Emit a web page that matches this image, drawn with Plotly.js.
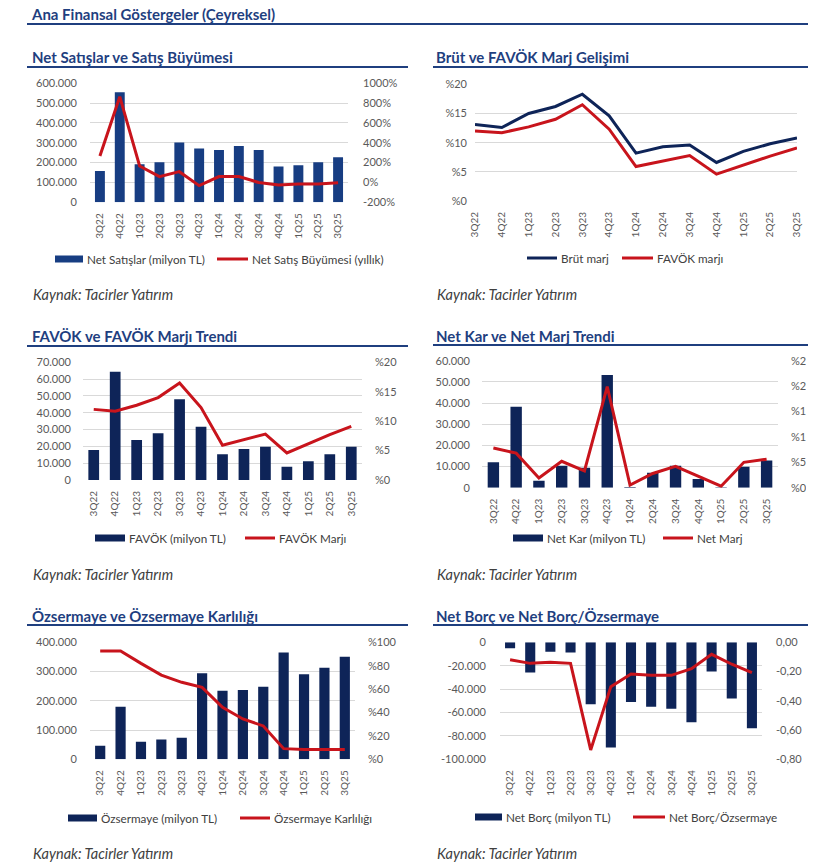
<!DOCTYPE html>
<html>
<head>
<meta charset="utf-8">
<script src="https://cdn.plot.ly/plotly-3.0.1.min.js"></script>
<style>html,body{margin:0;padding:0;background:#fff;}#chart{width:840px;height:864px;}</style>
</head>
<body>
<div id="chart"></div>
<script>
// ---------- DATA ----------
const quarters = ['3Q22','4Q22','1Q23','2Q23','3Q23','4Q23','1Q24','2Q24','3Q24','4Q24','1Q25','2Q25','3Q25'];

const netSales      = [158000,555000,192000,202000,301000,271000,264000,284000,264000,180000,187000,202000,227000];
const salesGrowth   = [267,865,166,59,109,-32,59,59,0,-25,-15,-15,-2];
const grossMargin   = [13.1,12.6,15.0,16.2,18.3,14.6,8.2,9.3,9.6,6.6,8.5,9.8,10.8];
const ebitdaMargin  = [12.0,11.7,12.7,14.0,16.5,12.3,5.9,6.9,7.8,4.6,6.2,7.7,9.1];
const ebitda        = [17800,64400,23800,27800,48000,31700,15300,18400,19800,7900,11100,15300,19800];
const netProfit     = [12000,38300,3300,10400,9400,53200,300,7100,10400,4100,200,9900,12800];
const netMargin     = [7.8,6.8,1.9,5.2,3.3,19.9,0.5,2.8,4.2,2.2,0.3,5.0,5.6];
const equity        = [46700,180000,60000,68000,74000,294000,234000,237000,248000,365000,291000,313000,351000];
const roe           = [92.6,92.6,82.0,72.0,65.8,61.5,44.4,34.5,28.5,9.1,8.3,8.3,8.3];
const netDebt       = [-5100,-25900,-8000,-8800,-53000,-90000,-51000,-55000,-56700,-68400,-25000,-48000,-73500];
const netDebtEquity = [-0.12,-0.144,-0.137,-0.144,-0.736,-0.303,-0.217,-0.226,-0.226,-0.18,-0.082,-0.15,-0.207];

// tick values / labels
const salesTicks   = [0,100000,200000,300000,400000,500000,600000];
const salesLabels  = ['0','100.000','200.000','300.000','400.000','500.000','600.000'];
const growthTicks  = [-200,0,200,400,600,800,1000];
const growthLabels = ['-200%','0%','200%','400%','600%','800%','1000%'];
const margin20Ticks  = [0,5,10,15,20];
const margin20Labels = ['%0','%5','%10','%15','%20'];
const ebitdaTicks  = [0,10000,20000,30000,40000,50000,60000,70000];
const ebitdaLabels = ['0','10.000','20.000','30.000','40.000','50.000','60.000','70.000'];
const profitTicks  = [0,10000,20000,30000,40000,50000,60000];
const profitLabels = ['0','10.000','20.000','30.000','40.000','50.000','60.000'];
const margin25Ticks  = [0,5,10,15,20,25];
const margin25Labels = ['%0','%5','%10','%15','%20','%25'];
const equityTicks  = [0,100000,200000,300000,400000];
const equityLabels = ['0','100.000','200.000','300.000','400.000'];
const roeTicks     = [0,20,40,60,80,100];
const roeLabels    = ['%0','%20','%40','%60','%80','%100'];
const debtTicks    = [-100000,-80000,-60000,-40000,-20000,0];
const debtLabels   = ['-100.000','-80.000','-60.000','-40.000','-20.000','0'];
const ratioTicks   = [-0.8,-0.6,-0.4,-0.2,0];
const ratioLabels  = ['-0,80','-0,60','-0,40','-0,20','0,00'];

// ---------- STYLE ----------
const W = 840, H = 864;
const X = px => px / W;
const Y = py => 1 - py / H;
const NAVY = '#0E2458';
const NAVY1 = '#173D82';
const RED = '#C8141C';
const TITLE = '#1F3F7F';
const FONT = 'Lato, "Open Sans", sans-serif';
const tickFont = {family: FONT, size: 11, color: '#595959'};
const xFont = {family: FONT, size: 10, color: '#595959'};

function xAx(x0, x1, yAnchor) {
  return {domain: [X(x0), X(x1)], anchor: yAnchor, type: 'category', tickangle: -90,
          tickfont: xFont, showgrid: false, zeroline: false, showline: false,
          ticks: '', fixedrange: true, ticklabelstandoff: 8};
}
function yLeft(y0, y1, xAnchor, range, tv, tt, standoff) {
  return {domain: [Y(y1), Y(y0)], anchor: xAnchor, range: range, tickvals: tv, ticktext: tt,
          tickfont: tickFont, showgrid: true, gridcolor: '#D9D9D9', gridwidth: 1,
          zeroline: false, showline: false, ticks: '', fixedrange: true,
          ticklabelstandoff: standoff};
}
function yRight(over, xAnchor, range, tv, tt, standoff) {
  return {overlaying: over, side: 'right', anchor: xAnchor, range: range, tickvals: tv, ticktext: tt,
          tickfont: tickFont, showgrid: false, zeroline: false, showline: false, ticks: '',
          fixedrange: true, ticklabelstandoff: standoff};
}

const traces = [
  // panel 1
  {type: 'bar', x: quarters, y: netSales, xaxis: 'x', yaxis: 'y', marker: {color: NAVY1}, hoverinfo: 'none'},
  {type: 'scatter', mode: 'lines', x: quarters, y: salesGrowth, xaxis: 'x', yaxis: 'y2', line: {color: RED, width: 3}, hoverinfo: 'none'},
  // panel 2
  {type: 'scatter', mode: 'lines', x: quarters, y: grossMargin, xaxis: 'x2', yaxis: 'y3', line: {color: NAVY, width: 3}, hoverinfo: 'none'},
  {type: 'scatter', mode: 'lines', x: quarters, y: ebitdaMargin, xaxis: 'x2', yaxis: 'y3', line: {color: RED, width: 3}, hoverinfo: 'none'},
  // panel 3
  {type: 'bar', x: quarters, y: ebitda, xaxis: 'x3', yaxis: 'y4', marker: {color: NAVY}, hoverinfo: 'none'},
  {type: 'scatter', mode: 'lines', x: quarters, y: ebitdaMargin, xaxis: 'x3', yaxis: 'y5', line: {color: RED, width: 3}, hoverinfo: 'none'},
  // panel 4
  {type: 'bar', x: quarters, y: netProfit, xaxis: 'x4', yaxis: 'y6', marker: {color: NAVY}, hoverinfo: 'none'},
  {type: 'scatter', mode: 'lines', x: quarters, y: netMargin, xaxis: 'x4', yaxis: 'y7', line: {color: RED, width: 3}, hoverinfo: 'none'},
  // panel 5
  {type: 'bar', x: quarters, y: equity, xaxis: 'x5', yaxis: 'y8', marker: {color: NAVY}, hoverinfo: 'none'},
  {type: 'scatter', mode: 'lines', x: quarters, y: roe, xaxis: 'x5', yaxis: 'y9', line: {color: RED, width: 3}, hoverinfo: 'none'},
  // panel 6
  {type: 'bar', x: quarters, y: netDebt, xaxis: 'x6', yaxis: 'y10', marker: {color: NAVY}, hoverinfo: 'none'},
  {type: 'scatter', mode: 'lines', x: quarters, y: netDebtEquity, xaxis: 'x6', yaxis: 'y11', line: {color: RED, width: 3}, hoverinfo: 'none'}
];

// ---------- DECORATION: titles, rules, legends, sources ----------
const shapes = [];
const annotations = [];
function rule(x0, x1, y, w) {
  shapes.push({type: 'line', xref: 'paper', yref: 'paper', x0: X(x0), x1: X(x1), y0: Y(y), y1: Y(y),
               line: {color: TITLE, width: w}});
}
function text(x, y, s, font, anchor) {
  annotations.push({xref: 'paper', yref: 'paper', x: X(x), y: Y(y), text: s, showarrow: false,
                    xanchor: anchor || 'left', yanchor: 'middle', font: font});
}
const titleFont = {family: FONT, size: 15, color: TITLE, weight: 'bold'};
const legFont = {family: FONT, size: 11.7, color: '#404040'};
const srcFont = {family: FONT, size: 14.5, color: '#404040', style: 'italic'};

function legBar(x0, x1, y, color, label) {
  shapes.push({type: 'rect', xref: 'paper', yref: 'paper', x0: X(x0), x1: X(x1), y0: Y(y + 3.5), y1: Y(y - 3.5),
               fillcolor: color, line: {width: 0}});
  text(x1 + 2, y, label, legFont);
}
function legLine(x0, x1, y, color, label) {
  shapes.push({type: 'line', xref: 'paper', yref: 'paper', x0: X(x0), x1: X(x1), y0: Y(y), y1: Y(y),
               line: {color: color, width: 3}});
  text(x1 + 2, y, label, legFont);
}

// main header
text(29, 14, 'Ana Finansal Göstergeler (Çeyreksel)', titleFont);
rule(27, 808, 24, 2.2);

// panel titles
text(30, 57, 'Net Satışlar ve Satış Büyümesi', titleFont);   rule(27, 408, 67, 2);
text(434, 57, 'Brüt ve FAVÖK Marj Gelişimi', titleFont);      rule(433, 808, 67, 2);
text(30, 336, 'FAVÖK ve FAVÖK Marjı Trendi', titleFont);      rule(27, 408, 346, 2);
text(434, 336, 'Net Kar ve Net Marj Trendi', titleFont);      rule(433, 808, 345, 2);
text(30, 616, 'Özsermaye ve Özsermaye Karlılığı', titleFont); rule(27, 408, 625, 2);
text(434, 616, 'Net Borç ve Net Borç/Özsermaye', titleFont);  rule(433, 808, 625, 2);

// legends
legBar(55, 83, 259, NAVY1, 'Net Satışlar (milyon TL)');
legLine(217, 248, 259, RED, 'Net Satış Büyümesi (yıllık)');
legLine(527, 557, 258, NAVY, 'Brüt marj');
legLine(622, 653, 258, RED, 'FAVÖK marjı');
legBar(95, 125, 538, NAVY, 'FAVÖK (milyon TL)');
legLine(245, 275, 538, RED, 'FAVÖK Marjı');
legBar(513, 543, 538, NAVY, 'Net Kar (milyon TL)');
legLine(663, 693, 538, RED, 'Net Marj');
legBar(68, 97, 818, NAVY, 'Özsermaye (milyon TL)');
legLine(240, 270, 818, RED, 'Özsermaye Karlılığı');
legBar(475, 502, 817, NAVY, 'Net Borç (milyon TL)');
legLine(633, 665, 817, RED, 'Net Borç/Özsermaye');

// sources
text(31, 295, 'Kaynak: Tacirler Yatırım', srcFont);
text(435, 294, 'Kaynak: Tacirler Yatırım', srcFont);
text(31, 574, 'Kaynak: Tacirler Yatırım', srcFont);
text(435, 574, 'Kaynak: Tacirler Yatırım', srcFont);
text(31, 853, 'Kaynak: Tacirler Yatırım', srcFont);
text(435, 853, 'Kaynak: Tacirler Yatırım', srcFont);

// clip of right-axis labels in panel 4 (as in the reference)
shapes.push({type: 'rect', xref: 'paper', yref: 'paper', layer: 'above', x0: X(806), x1: 1, y0: Y(500), y1: Y(350),
             fillcolor: '#FFFFFF', line: {width: 0}});

const layout = {
  width: W, height: H, margin: {l: 0, r: 0, t: 0, b: 0},
  paper_bgcolor: '#FFFFFF', plot_bgcolor: 'rgba(0,0,0,0)',
  showlegend: false, bargap: 0.5, font: {family: FONT},
  xaxis:  xAx(90, 348, 'y'),
  yaxis:  yLeft(83.3, 202.3, 'x', [0, 600000], salesTicks, salesLabels, 12),
  yaxis2: yRight('y', 'x', [-200, 1000], growthTicks, growthLabels, 14),
  xaxis2: xAx(475, 797, 'y3'),
  yaxis3: yLeft(84.3, 201, 'x2', [0, 20], margin20Ticks, margin20Labels, 7),
  xaxis3: xAx(83, 362, 'y4'),
  yaxis4: yLeft(362.3, 480, 'x3', [0, 70000], ebitdaTicks, ebitdaLabels, 11),
  yaxis5: yRight('y4', 'x3', [0, 20], margin20Ticks, margin20Labels, 12),
  xaxis4: xAx(482, 778, 'y6'),
  yaxis6: yLeft(360.7, 487.7, 'x4', [0, 60000], profitTicks, profitLabels, 11),
  yaxis7: yRight('y6', 'x4', [0, 25], margin25Ticks, margin25Labels, 12),
  xaxis5: xAx(90, 355, 'y8'),
  yaxis8: yLeft(642.3, 759.3, 'x5', [0, 400000], equityTicks, equityLabels, 12),
  yaxis9: yRight('y8', 'x5', [0, 100], roeTicks, roeLabels, 12),
  xaxis6: xAx(500, 762, 'y10'),
  yaxis10: yLeft(642.3, 759.3, 'x6', [-100000, 0], debtTicks, debtLabels, 13),
  yaxis11: yRight('y10', 'x6', [-0.8, 0], ratioTicks, ratioLabels, 13),
  shapes: shapes,
  annotations: annotations
};

Plotly.newPlot('chart', traces, layout, {staticPlot: true, displayModeBar: false});
</script>
</body>
</html>
